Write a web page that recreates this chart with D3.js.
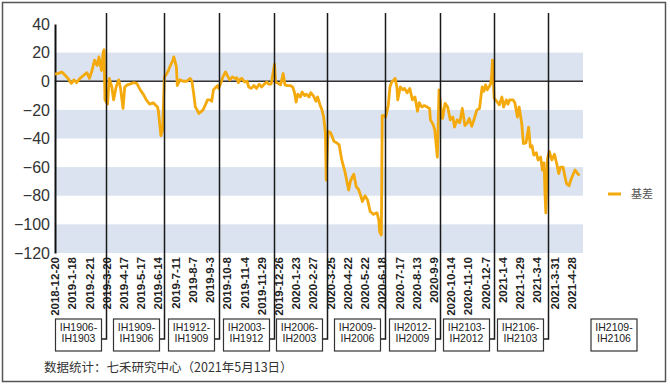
<!DOCTYPE html>
<html>
<head>
<meta charset="utf-8">
<script src="https://cdn.jsdelivr.net/npm/d3@7"></script>
<style>
body{margin:0;background:#fff;}
svg{display:block;font-family:"Liberation Sans",Arial,sans-serif;}
</style>
</head>
<body>
<script>
//IH basis chart (next-month minus current contract), trading day index vs basis

//trading day index (0 = 2018-12-20) and basis values
var dayIdx = [0,4,8,12,15,19,22,25,29,33,37,40,43,46,49,51,54,56,57,58,61,63,66,68,71,74,76,79,81,84,87,91,95,99,103,106,110,114,119,120,123,125,
    127,129,132,134,137,138,141,142,145,149,153,157,159,161,163,165,167,170,172,175,177,180,182,184,187,189,190,
    193,195,198,201,203,206,209,211,213,215,217,220,223,225,228,231,234,237,240,243,246,248,251,255,256,259,262,265,267,270,273,276,278,280,282,285,287,290,292,295,297,300,303,305,308,310,312,314,315,
    317,320,324,327,330,333,337,341,343,345,347,350,352,354,357,360,363,366,370,373,374,376,377,379,
    380,382,384,387,389,391,393,395,397,398,401,404,406,409,412,415,418,421,423,426,429,432,435,436,439,441,444,
    446,448,450,453,456,459,462,464,467,470,473,476,479,481,484,487,490,493,496,498,500,502,505,506,507,508,
    510,513,516,519,521,524,526,528,532,534,537,539,542,544,547,550,552,554,556,559,561,564,566,568,569,570,
    572,574,577,580,583,585,587,590,592,594,597,599,601,604,607,609];
var basis = [5,5.5,6.5,4,2,-1.5,1,-1,2,4,6,2,7.5,14.7,11,17,7.5,20.5,22,-13,-16,2,-4,-13,-4,1,-4.5,-19,-4,-2.5,-2,-1,-1.5,-6,-9.5,-13,-16,-15,-18,-20.5,-38,-34,
    3,4.5,8,11,14.7,17,10,-3,1,0,0,2,0,-8.5,-18,-20,-22.5,-21,-20,-16,-13,-13,-14,-6,-4,-3,-5,
    -0.5,3,6.5,3,1,3,2,2.5,-1,1.5,2,-0.5,0,-4,-5,-3,-5,-2,-4,-2,-0.5,-2,-2,12,-0.5,-1.5,-2.5,5.4,-2.5,-3,-3,-4,-7.5,-14.5,-9,-11,-7.5,-10,-9,-11,-8,-10,-14,-11,-17,-20,-25,-36,-69,
    -35,-36,-42,-43,-44.5,-55,-64,-76,-70,-67,-65,-74,-75,-78,-84,-80,-83,-91,-93,-92,-92,-97,-105,-107.5,
    -24,-24,-25,-17,-4,-0.5,0.5,2,-4,-13,-4,-6,-5,-8,-5,-13,-11,-21,-15,-18,-17,-18,-19,-27,-30,-34,-53,
    -6,-18,-26,-15.5,-18,-27,-25,-32,-27,-29,-19,-31,-29,-26,-31.5,-26,-20,-19,-4,-7,-2.5,-6,-3,-1.5,3,14.7,
    -12,-14,-16.5,-11,-18,-13,-16,-13,-13,-15,-25,-18,-29.5,-43.5,-43,-32,-46,-45,-51.6,-50,-55,-53,-62,-57,-78,-92,
    -54,-49,-55,-51,-58.5,-64.5,-60,-60,-66,-71.5,-73,-69,-66,-62,-64.5,-66];

//axis labels every 20 trading days
var dateLabels = ["2018-12-20","2019-1-18","2019-2-21","2019-3-20","2019-4-17","2019-5-17","2019-6-14","2019-7-11",
    "2019-8-7","2019-9-3","2019-10-8","2019-11-4","2019-11-29","2019-12-26","2020-1-23","2020-2-27","2020-3-25",
    "2020-4-22","2020-5-22","2020-6-18","2020-7-17","2020-8-13","2020-9-9","2020-10-14","2020-11-10","2020-12-7",
    "2021-1-4","2021-1-29","2021-3-4","2021-3-31","2021-4-28"];

//contract roll days and the spread pair in each period
var rollIdx = [59,127,191,254,316,383,447,510,573];
var pairNames = [["IH1906-","IH1903"],["IH1909-","IH1906"],["IH1912-","IH1909"],["IH2003-","IH1912"],["IH2006-","IH2003"],
    ["IH2009-","IH2006"],["IH2012-","IH2009"],["IH2103-","IH2012"],["IH2106-","IH2103"],["IH2109-","IH2106"]];

var yTicks = [40,20,0,-20,-40,-60,-80,-100,-120];
var bandRanges = [[0,20],[-40,-20],[-80,-60],[-120,-100]];

var seriesName = "基差";
var sourceNote = "数据统计：七禾研究中心（2021年5月13日）";

var width = 670, height = 385;
var orange = "#f4a90c";

var svg = d3.select("body").append("svg")
    .attr("width", width)
    .attr("height", height);

//outer frame
svg.append("rect")
    .attr("x", 2.5).attr("y", 2.5)
    .attr("width", 663).attr("height", 379)
    .attr("fill", "none")
    .attr("stroke", "#555")
    .attr("stroke-width", 1.5);

var x = d3.scaleLinear().domain([0, 612]).range([55, 582]);
var y = d3.scaleLinear().domain([-120, 40]).range([253, 24]);

//shaded bands
svg.selectAll(".band")
    .data(bandRanges)
    .enter()
    .append("rect")
    .attr("class", "band")
    .attr("x", x(0))
    .attr("width", x(612) - x(0) + 1)
    .attr("y", function(d){ return y(d[1]); })
    .attr("height", function(d){ return y(d[0]) - y(d[1]); })
    .attr("fill", "#dae3ef");

//zero line
svg.append("line")
    .attr("x1", x(0)).attr("x2", x(612) + 1)
    .attr("y1", y(0)).attr("y2", y(0))
    .attr("stroke", "#333")
    .attr("stroke-width", 1.5);

//y axis
var yAxis = d3.axisLeft(y).tickValues(yTicks).tickSize(0).tickPadding(5);
var yg = svg.append("g")
    .attr("transform", "translate(" + x(0) + ",0)")
    .call(yAxis);
yg.select(".domain").attr("stroke", "#111").attr("stroke-width", 2);
yg.selectAll("text")
    .attr("font-size", "16px")
    .attr("font-family", "Liberation Sans, Arial, sans-serif")
    .attr("fill", "#333");

//x labels (rotated)
svg.selectAll(".xlab")
    .data(dateLabels)
    .enter()
    .append("text")
    .attr("class", "xlab")
    .attr("transform", function(d, i){ return "translate(" + x(i * 20) + ",257) rotate(-90)"; })
    .attr("dy", "0.36em")
    .attr("text-anchor", "end")
    .attr("font-size", "11.5px")
    .attr("font-weight", "bold")
    .attr("fill", "#222")
    .text(function(d){ return d; });

//basis line
var points = dayIdx.map(function(d, i){ return [d, basis[i]]; });
var line = d3.line()
    .x(function(d){ return x(d[0]); })
    .y(function(d){ return y(d[1]); });
svg.append("path")
    .datum(points)
    .attr("d", line)
    .attr("fill", "none")
    .attr("stroke", orange)
    .attr("stroke-width", 2.8)
    .attr("stroke-linejoin", "round");

//roll lines with connector to the pair box
var boxW = 46, boxH = 32, boxTop = 319, stubY = 339;
svg.selectAll(".roll")
    .data(rollIdx)
    .enter()
    .append("path")
    .attr("class", "roll")
    .attr("d", function(d){
        var rx = Math.round(x(d)) + 0.5;
        return "M" + rx + ",13V" + stubY + "H" + (rx - 5);
    })
    .attr("fill", "none")
    .attr("stroke", "#1a1a1a")
    .attr("stroke-width", 1.5);

//pair boxes; the last one is the current pair, past the plot
var boxes = svg.selectAll(".pair")
    .data(pairNames)
    .enter()
    .append("g")
    .attr("class", "pair")
    .attr("transform", function(d, i){
        var right = i < rollIdx.length ? Math.round(x(rollIdx[i])) - 4.5 : x(612) + 9 + boxW;
        return "translate(" + (right - boxW) + "," + boxTop + ")";
    });
boxes.append("rect")
    .attr("width", boxW).attr("height", boxH)
    .attr("fill", "#fff")
    .attr("stroke", "#333")
    .attr("stroke-width", 1.2);
boxes.append("text")
    .attr("x", boxW / 2).attr("y", 12)
    .attr("text-anchor", "middle")
    .attr("font-size", "10.5px")
    .attr("fill", "#222")
    .text(function(d){ return d[0]; });
boxes.append("text")
    .attr("x", boxW / 2).attr("y", 23)
    .attr("text-anchor", "middle")
    .attr("font-size", "10.5px")
    .attr("fill", "#222")
    .text(function(d){ return d[1]; });

//legend
svg.append("line")
    .attr("x1", 608).attr("x2", 621)
    .attr("y1", 194).attr("y2", 194)
    .attr("stroke", orange)
    .attr("stroke-width", 3);
svg.append("text")
    .attr("x", 631).attr("y", 198)
    .attr("font-size", "11px")
    .attr("font-family", "Noto Sans CJK SC, sans-serif")
    .attr("fill", "#555")
    .text(seriesName);

//source note
svg.append("text")
    .attr("x", 44).attr("y", 372)
    .attr("font-size", "12.5px")
    .attr("font-family", "Noto Sans CJK SC, sans-serif")
    .attr("fill", "#333")
    .text(sourceNote);
</script>
</body>
</html>
